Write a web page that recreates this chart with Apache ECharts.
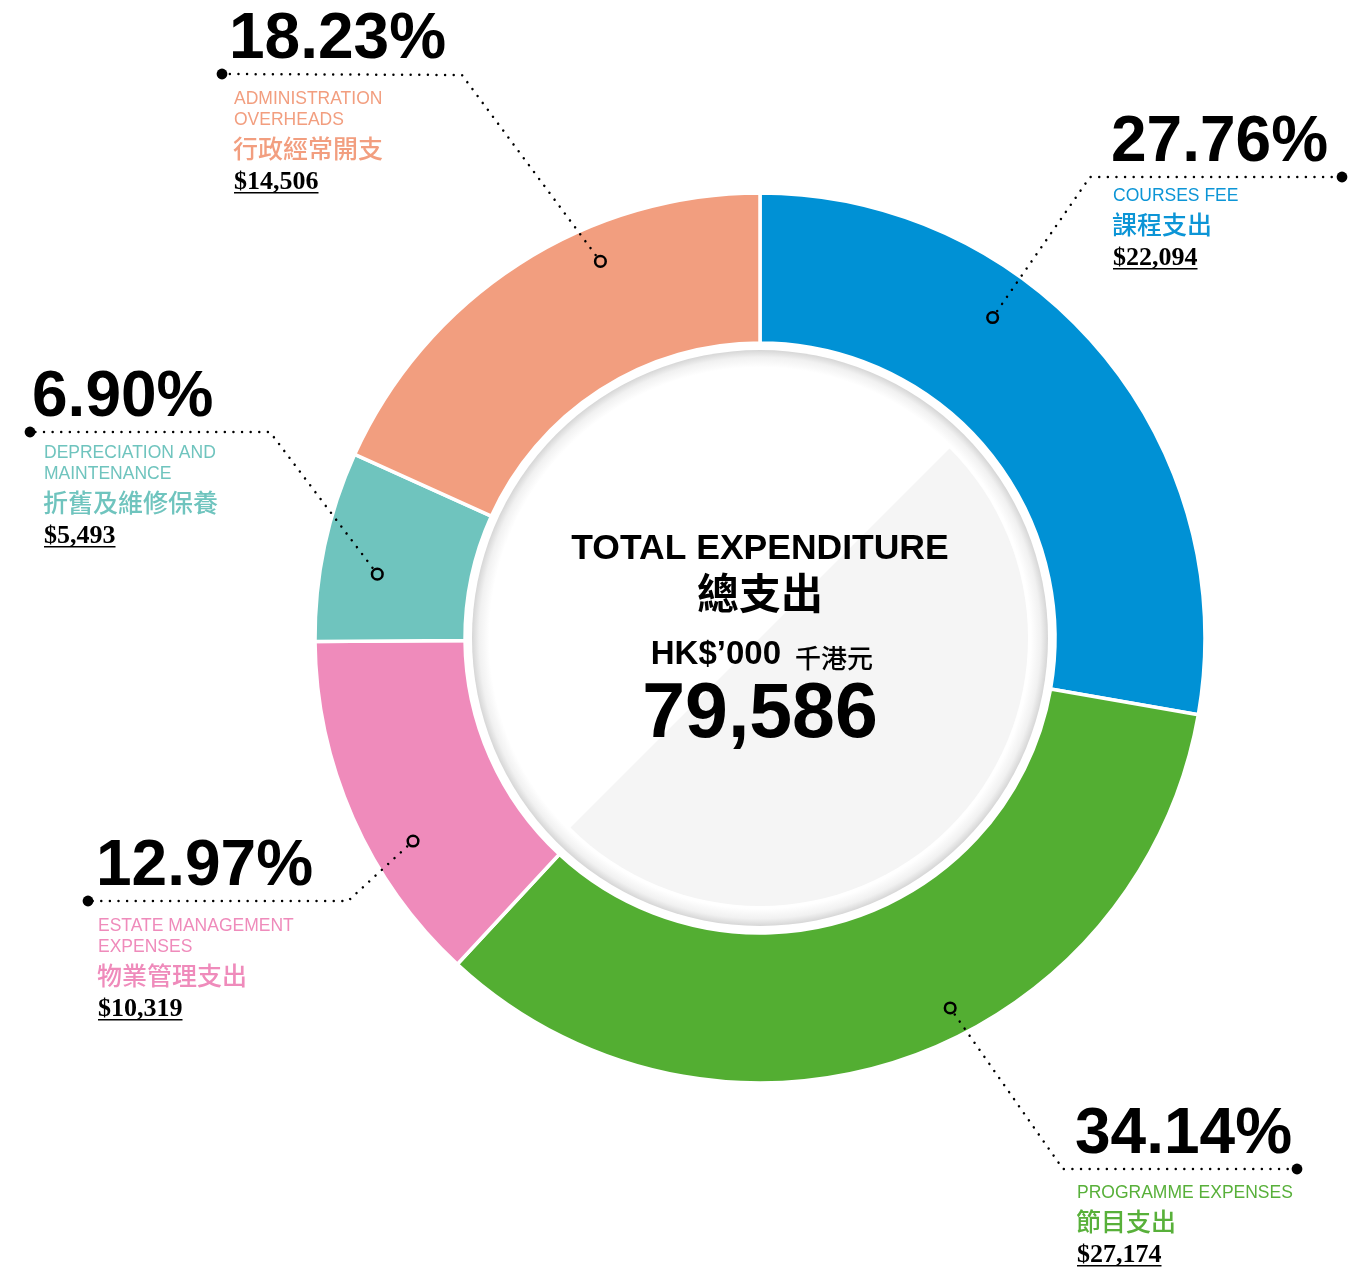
<!DOCTYPE html>
<html>
<head>
<meta charset="utf-8">
<script src="https://cdn.jsdelivr.net/npm/echarts@6/dist/echarts.min.js"></script>
<style>
  html, body { margin: 0; padding: 0; background: #ffffff; }
  #chart { width: 1365px; height: 1267px; }
</style>
</head>
<body>
<div id="chart"></div>
<script>
// Expenditure breakdown, HK$'000
const categoriesEn = ['COURSES FEE', 'PROGRAMME EXPENSES', 'ESTATE MANAGEMENT\nEXPENSES', 'DEPRECIATION AND\nMAINTENANCE', 'ADMINISTRATION\nOVERHEADS'];
const categoriesZh = ['課程支出', '節目支出', '物業管理支出', '折舊及維修保養', '行政經常開支'];
const expenditure = [22094, 27174, 10319, 5493, 14506];
const sliceColors = ['#0091d5', '#53ae32', '#ef8bbb', '#6fc4be', '#f29e7f'];
const textColors  = ['#0c95d6', '#58b03a', '#ef8bbb', '#6fc4be', '#f29e7f'];

const totalTitleEn = 'TOTAL EXPENDITURE';
const totalTitleZh = '總支出';
const unitEn = 'HK$’000';
const unitZh = '千港元';

// Callout placement: where along the slice the marker sits (fraction of the
// slice's sweep and radius), the elbow of the leader, its far end, and text column.
const callouts = [
  { t: 0.36, r: 396, elbow: [1090, 177], end: [1342, 177], textX: 1113, pctX: 1111, enGap: 19 },
  { t: 0.43, r: 416, elbow: [1063, 1169], end: [1297, 1169], textX: 1077, pctX: 1075, enGap: 24 },
  { t: 0.36, r: 402, elbow: [348, 901], end: [88, 901], textX: 98, pctX: 96, enGap: 25 },
  { t: 0.40, r: 388, elbow: [270, 432], end: [30, 432], textX: 44, pctX: 32, enGap: 21 },
  { t: 0.65, r: 409, elbow: [462, 75], end: [222, 74], textX: 234, pctX: 229, enGap: 25 }
];

const CX = 760, CY = 638;
const total = expenditure.reduce((a, b) => a + b, 0);

const chart = echarts.init(document.getElementById('chart'), null, { renderer: 'canvas' });

chart.setOption({
  animation: false,
  backgroundColor: '#ffffff',
  series: [{
    type: 'pie',
    center: [CX, CY],
    radius: [295, 445],
    startAngle: 90,
    clockwise: true,
    silent: true,
    label: { show: false },
    labelLine: { show: false },
    emphasis: { disabled: true },
    itemStyle: { borderColor: '#ffffff', borderWidth: 3.5 },
    data: expenditure.map((v, i) => ({
      name: categoriesZh[i],
      value: v,
      itemStyle: { color: sliceColors[i] }
    }))
  }]
});

// Slice geometry from the pie layout
function sliceAngles(i) {
  try {
    const d = chart.getModel().getSeriesByIndex(0).getData();
    const l = d.getItemLayout(i);
    if (l && isFinite(l.startAngle)) return [l.startAngle, l.endAngle];
  } catch (e) {}
  let acc = 0;
  for (let k = 0; k < i; k++) acc += expenditure[k];
  const s = -Math.PI / 2 + acc / total * Math.PI * 2;
  return [s, s + expenditure[i] / total * Math.PI * 2];
}

const measureCtx = document.createElement('canvas').getContext('2d');
function textWidth(text, font) {
  measureCtx.font = font;
  return measureCtx.measureText(text).width;
}

const FONT_PCT = 'bold 64px "Liberation Sans", Arial, Helvetica, sans-serif';
const FONT_EN = '17.5px "Liberation Sans", Arial, Helvetica, sans-serif';
const FONT_ZH = '500 25px "Noto Sans CJK TC", "Noto Sans CJK SC", sans-serif';
const FONT_VAL = 'bold 26px "Liberation Serif", "Times New Roman", serif';

const graphics = [];

// Centre disc: white face with a soft inner rim, and a pale grey half to the lower right
graphics.push({
  type: 'circle', z: 1, silent: true,
  shape: { cx: CX, cy: CY, r: 288 },
  style: {
    fill: {
      type: 'radial', x: 0.5, y: 0.5, r: 0.5,
      colorStops: [
        { offset: 0, color: '#ffffff' },
        { offset: 0.94, color: '#ffffff' },
        { offset: 0.975, color: '#f1f1f1' },
        { offset: 1, color: '#d6d6d6' }
      ]
    }
  }
});
graphics.push({
  type: 'sector', z: 2, silent: true,
  shape: { cx: CX, cy: CY, r0: 0, r: 268, startAngle: -Math.PI / 4, endAngle: Math.PI * 3 / 4, clockwise: true },
  style: { fill: '#f5f5f5' }
});

// Centre totals
graphics.push({
  type: 'text', z: 20, silent: true, x: CX, y: CY - 89,
  style: { text: totalTitleEn, font: 'bold 35.5px "Liberation Sans", Arial, sans-serif', fill: '#000', align: 'center', verticalAlign: 'middle' }
});
graphics.push({
  type: 'text', z: 20, silent: true, x: CX, y: CY - 45,
  style: { text: totalTitleZh, font: 'bold 42px "Noto Sans CJK TC", sans-serif', fill: '#000', align: 'center', verticalAlign: 'middle' }
});
graphics.push({
  type: 'text', z: 20, silent: true, x: CX + 21, y: CY + 17,
  style: { text: unitEn, font: 'bold 33px "Liberation Sans", Arial, sans-serif', fill: '#000', align: 'right', verticalAlign: 'middle' }
});
graphics.push({
  type: 'text', z: 20, silent: true, x: CX + 35, y: CY + 20,
  style: { text: unitZh, font: '500 26px "Noto Sans CJK TC", sans-serif', fill: '#000', align: 'left', verticalAlign: 'middle' }
});
graphics.push({
  type: 'text', z: 20, silent: true, x: CX, y: CY + 78,
  style: { text: total.toLocaleString('en-US'), font: 'bold 77px "Liberation Sans", Arial, sans-serif', fill: '#000', align: 'center', verticalAlign: 'middle' }
});

// Callouts
expenditure.forEach((v, i) => {
  const c = callouts[i];
  const [a0, a1] = sliceAngles(i);
  const a = a0 + (a1 - a0) * c.t;
  const ax = CX + c.r * Math.cos(a);
  const ay = CY + c.r * Math.sin(a);
  const dx = c.elbow[0] - ax, dy = c.elbow[1] - ay;
  const len = Math.hypot(dx, dy);
  const sx = ax + dx / len * 8, sy = ay + dy / len * 8;

  graphics.push({
    type: 'polyline', z: 10, silent: true,
    shape: { points: [[sx, sy], c.elbow, c.end] },
    style: { stroke: '#000', lineWidth: 2.5, lineDash: [0.01, 8.6], lineCap: 'round', fill: null }
  });
  graphics.push({
    type: 'circle', z: 11, silent: true,
    shape: { cx: ax, cy: ay, r: 5.3 },
    style: { stroke: '#000', lineWidth: 2.5, fill: null }
  });
  graphics.push({
    type: 'circle', z: 11, silent: true,
    shape: { cx: c.end[0], cy: c.end[1], r: 5.4 },
    style: { fill: '#000' }
  });

  const lineY = c.end[1];
  const pct = (v / total * 100).toFixed(2) + '%';
  graphics.push({
    type: 'text', z: 12, silent: true, x: c.pctX, y: lineY - 34,
    style: { text: pct, font: FONT_PCT, fill: '#000', align: 'left', verticalAlign: 'middle' }
  });

  const enLines = categoriesEn[i].split('\n');
  let y = lineY + c.enGap;
  enLines.forEach((line, k) => {
    graphics.push({
      type: 'text', z: 12, silent: true, x: c.textX, y: y,
      style: { text: line, font: FONT_EN, fill: textColors[i], align: 'left', verticalAlign: 'middle' }
    });
    if (k < enLines.length - 1) y += 21;
  });
  y += 28;
  graphics.push({
    type: 'text', z: 12, silent: true, x: c.textX - 1, y: y,
    style: { text: categoriesZh[i], font: FONT_ZH, fill: textColors[i], align: 'left', verticalAlign: 'middle' }
  });
  y += 34;
  const valText = '$' + v.toLocaleString('en-US');
  graphics.push({
    type: 'text', z: 12, silent: true, x: c.textX, y: y,
    style: { text: valText, font: FONT_VAL, fill: '#000', align: 'left', verticalAlign: 'middle' }
  });
  const w = textWidth(valText, FONT_VAL);
  graphics.push({
    type: 'rect', z: 12, silent: true,
    shape: { x: c.textX, y: y + 10, width: w, height: 1.6 },
    style: { fill: '#000' }
  });
});

chart.setOption({ graphic: { elements: graphics } });
</script>
</body>
</html>
